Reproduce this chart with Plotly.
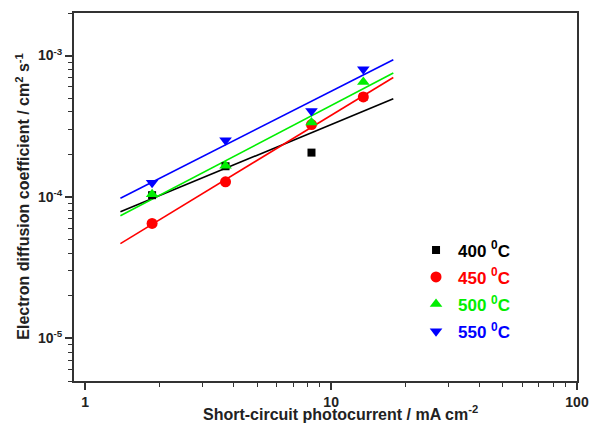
import numpy as np
import plotly.graph_objects as go

# ---- data ----
jsc = [1.87, 3.72, 8.32, 13.52]          # mA cm^-2
D_400 = [1.03e-4, 1.65e-4, 2.06e-4, 5.1e-4]
D_450 = [6.5e-5, 1.28e-4, 3.25e-4, 5.1e-4]
D_500 = [1.045e-4, 1.66e-4, 3.37e-4, 6.5e-4]
D_550 = [1.26e-4, 2.52e-4, 4.05e-4, 8.0e-4]
series_names = ["400", "450", "500", "550"]
series_vals = [D_400, D_450, D_500, D_550]
colors = ["#000000", "#ff0000", "#00ee00", "#0000ff"]
symbols = ["square", "circle", "triangle-up", "triangle-down"]
marker_sizes = [8, 11, 11, 11]
fit_range = [1.39, 17.9]

x_tickvals = [1, 10, 100]
x_ticktext = ["1", "10", "100"]
y_tickvals = [1e-5, 1e-4, 1e-3]
y_ticktext = ["10<sup>-5</sup>", "10<sup>-4</sup>", "10<sup>-3</sup>"]
x_title = "Short-circuit photocurrent / mA cm<sup>-2</sup>"
y_title = "Electron diffusion coefficient / cm<sup>2</sup> s<sup>-1</sup>"

FONT = "Liberation Sans, Arial, sans-serif"
fig = go.Figure()

# fitted lines (log-log linear fit)
lx = np.log10(np.array(jsc))
xf = np.array(fit_range)
for vals, c in zip(series_vals, colors):
    p = np.polyfit(lx, np.log10(np.array(vals)), 1)
    yf = 10 ** np.polyval(p, np.log10(xf))
    fig.add_trace(go.Scatter(x=xf, y=yf, mode="lines",
                             line=dict(color=c, width=1.6),
                             showlegend=False, hoverinfo="skip"))

for name, vals, c, s, ms in zip(series_names, series_vals, colors, symbols, marker_sizes):
    fig.add_trace(go.Scatter(
        x=jsc, y=vals, mode="markers", legendgroup=name,
        marker=dict(symbol=s, size=ms, color=c, line=dict(width=0)),
        name=f'<span style="color:{c}">{name} <sup>0</sup>C</span>'))

axis_common = dict(
    type="log", showgrid=False, zeroline=False, automargin=False,
    showline=True, linecolor="#333333", linewidth=2, mirror=True,
    ticks="outside", ticklen=7, tickwidth=1.5, tickcolor="#333333",
    minor=dict(ticks="outside", ticklen=4, tickwidth=1.2, tickcolor="#333333", dtick="D1"),
)

fig.update_xaxes(**axis_common, range=[np.log10(0.9), 2],
                 tickvals=x_tickvals, ticktext=x_ticktext,
                 tickfont=dict(size=14, family=FONT, color="#222", weight="bold"))
fig.update_yaxes(**axis_common, range=[np.log10(5e-6), np.log10(2e-3)],
                 tickvals=y_tickvals, ticktext=y_ticktext,
                 tickfont=dict(size=14, family=FONT, color="#222", weight="bold"))

fig.add_annotation(text=x_title, xref="paper", yref="paper", x=0.529, y=-0.12,
                   xanchor="center", yanchor="bottom", showarrow=False,
                   font=dict(size=16, family=FONT, color="#222", weight="bold"))
fig.add_annotation(text=y_title, xref="paper", yref="paper", x=-0.102, y=0.5,
                   xanchor="center", yanchor="middle", showarrow=False, textangle=-90,
                   font=dict(size=16, family=FONT, color="#222", weight="bold"))

fig.update_layout(
    width=589, height=427,
    margin=dict(l=74, r=12, t=13, b=46),
    paper_bgcolor="white", plot_bgcolor="white",
    font=dict(family=FONT, weight="bold"),
    legend=dict(x=0.676, y=0.404, xanchor="left", yanchor="top",
                bgcolor="rgba(0,0,0,0)", font=dict(size=17, family=FONT, weight="bold"),
                itemwidth=34, tracegroupgap=2, traceorder="grouped"),
)

fig.write_html("out.html")
